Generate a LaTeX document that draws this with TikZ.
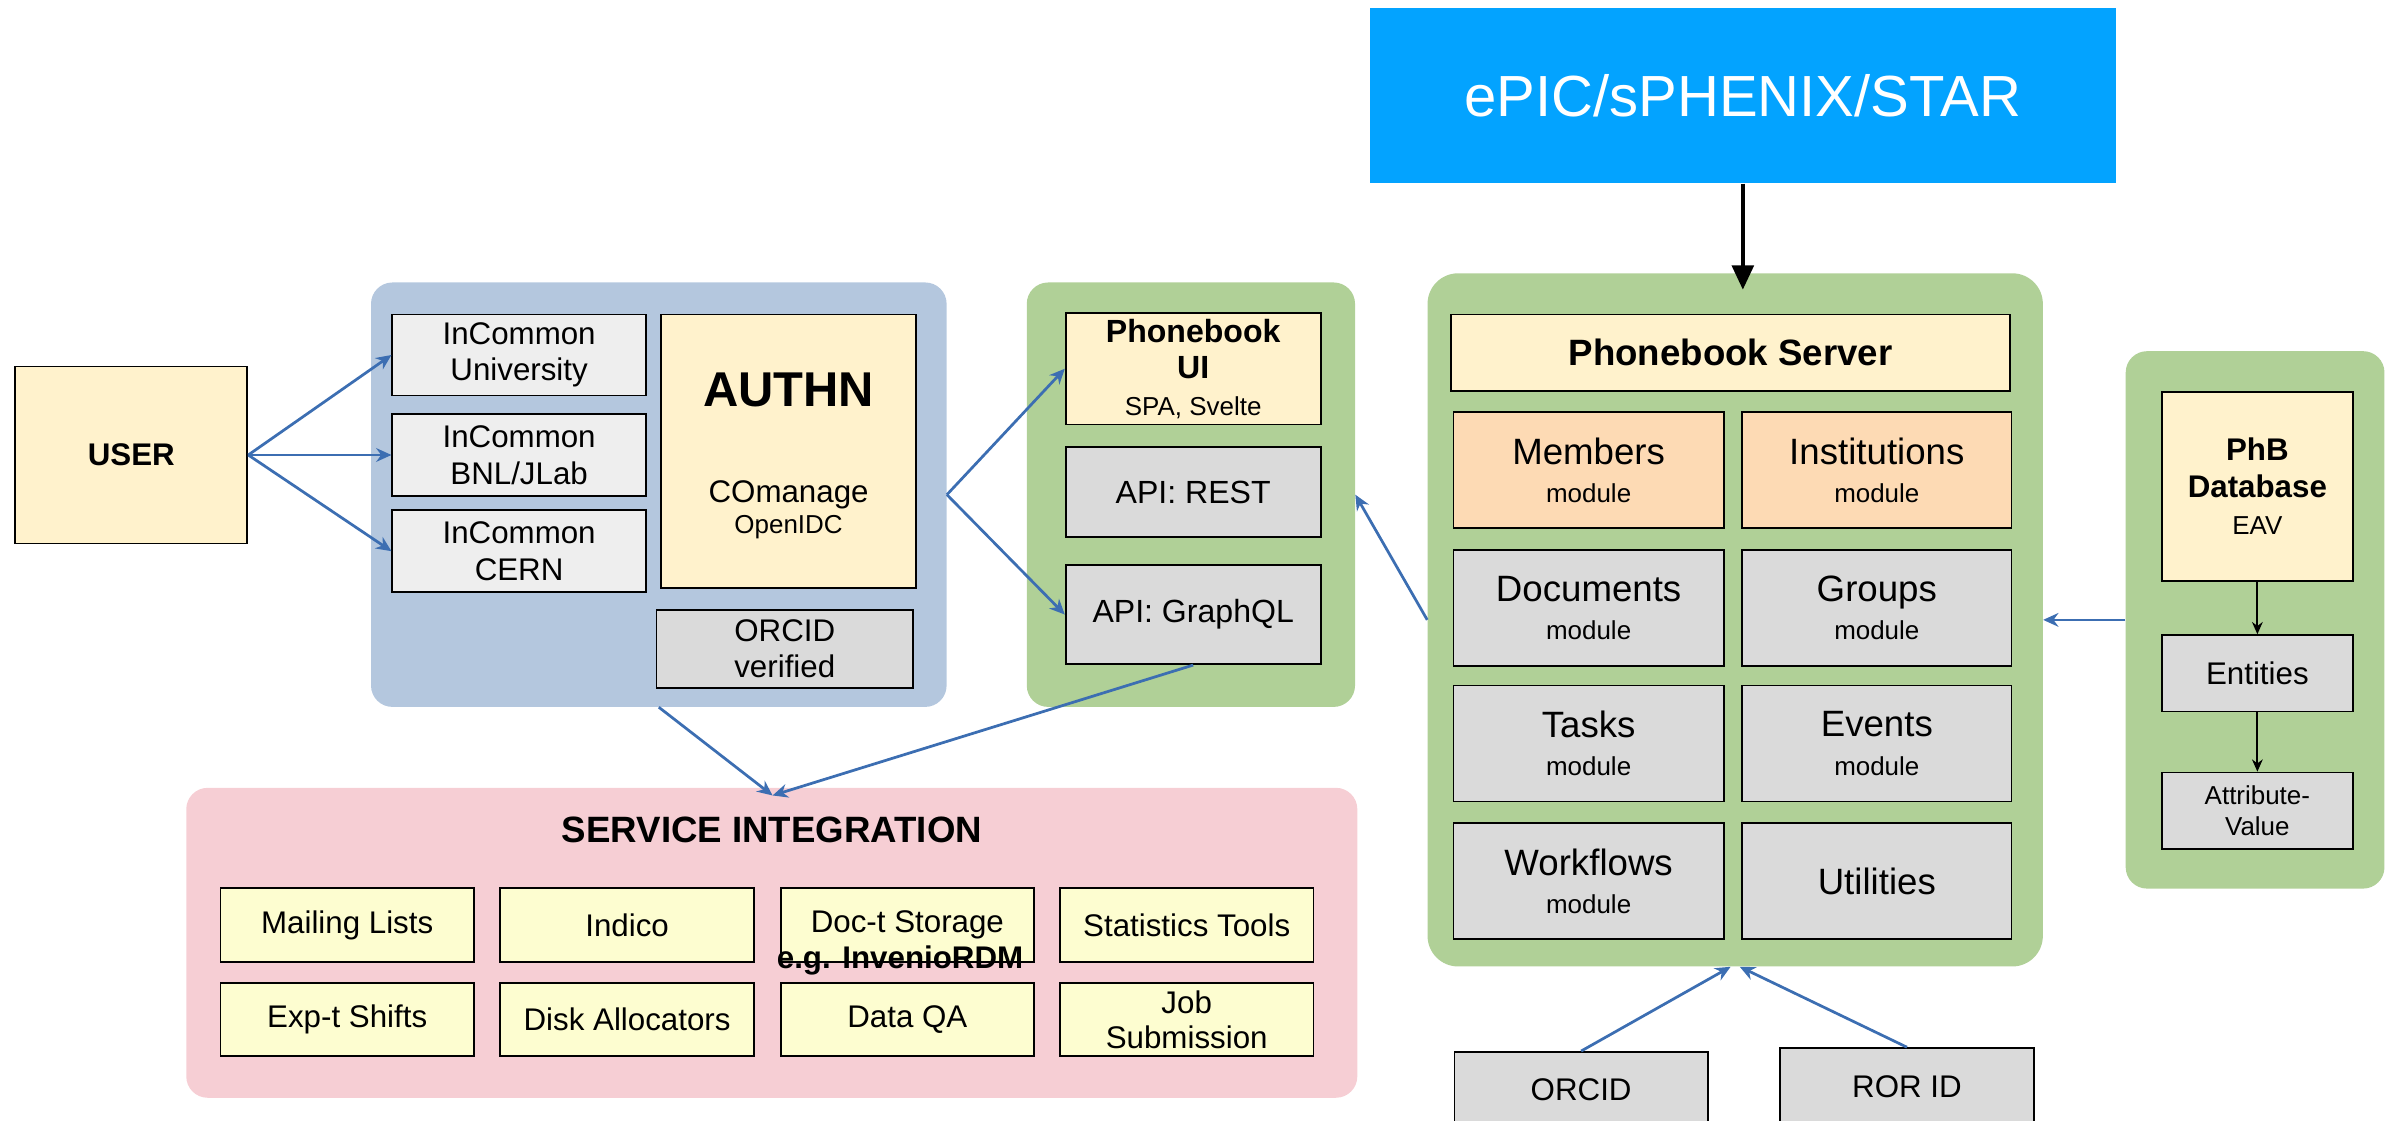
\documentclass[tikz,border=0pt]{standalone}
\usepackage{fontspec}
\setmainfont{Liberation Sans}
\usetikzlibrary{arrows.meta}
\definecolor{cream}{RGB}{255,242,204}
\definecolor{authblue}{RGB}{180,199,222}
\definecolor{ltgray}{RGB}{238,238,238}
\definecolor{midgray}{RGB}{218,218,218}
\definecolor{regiongreen}{RGB}{176,208,151}
\definecolor{epicblue}{RGB}{3,163,255}
\definecolor{peach}{RGB}{253,218,180}
\definecolor{pinkreg}{RGB}{246,206,212}
\definecolor{paleyellow}{RGB}{253,253,208}
\definecolor{arrowblue}{RGB}{60,110,178}
\newcommand\fsz[2]{\fontsize{#1}{#2}\selectfont}
\begin{document}
\begin{tikzpicture}[x=1pt,y=-1pt,
  dims/.style 2 args={minimum width=#1pt, minimum height=#2pt},
  box/.style={draw=black, line width=1.2pt, inner sep=0pt, align=center},
  region/.style={rounded corners=14pt, inner sep=0pt},
  txt/.style={font=\fsz{20.5}{24}},
  module/.style={box, dims={177}{76}, font=\fsz{24}{25}},
  svcbox/.style={box, fill=paleyellow, dims={166}{48}, font=\fsz{20.5}{23}},
  barrow/.style={draw=arrowblue, line width=1.8pt, -{Stealth[length=10pt,width=9pt]}},
  karrow/.style={draw=black, line width=1.3pt, -{Stealth[length=8pt,width=7pt]}}
 ]
\useasboundingbox (0,0) rectangle (1568,734);

% USER
\node[box, fill=cream, dims={152}{116}, font=\bfseries\fsz{20.5}{24}] (user) at (86,298) {USER};

% AUTH region
\node[region, fill=authblue, dims={377}{278}] (authreg) at (431.5,324) {};
\node[box, fill=ltgray, dims={166}{53}, txt] (univ) at (340,232.5) {InCommon\\University};
\node[box, fill=ltgray, dims={166}{54}, txt] (bnl) at (340,298) {InCommon\\BNL/JLab};
\node[box, fill=ltgray, dims={166}{54}, txt] (cern) at (340,361) {InCommon\\CERN};
\node[box, fill=cream, dims={167}{179}] (authn) at (516.5,295.5) {};
\node[font=\bfseries\fsz{32}{36}] (authnlbl) at (516.5,255.5) {AUTHN};
\node[txt] (comanage) at (516.5,324) {COmanage};
\node[font=\fsz{17}{20}] (openidc) at (516.5,345) {OpenIDC};
\node[box, fill=midgray, dims={168}{51}, txt] (orcidv) at (514,425) {ORCID\\verified};

% UI region
\node[region, fill=regiongreen, dims={215}{278}] (uireg) at (780,324) {};
\node[box, fill=cream, dims={167}{73}, font=\bfseries\fsz{21}{24}] (pbui) at (781.5,241.5) {Phonebook\\UI\\\mdseries\fsz{17}{24}SPA, Svelte};
\node[box, fill=midgray, dims={167}{58.6}, font=\fsz{21}{24}] (rest) at (781.5,322.3) {API: REST};
\node[box, fill=midgray, dims={167}{65}, font=\fsz{21}{24}] (gql) at (781.5,402.5) {API: GraphQL};

% ePIC
\node[fill=epicblue, dims={489}{115}, text=white, font=\fsz{38}{40}] (epic) at (1141.5,62.5) {ePIC/sPHENIX/STAR};

% Server region
\node[region, rounded corners=20pt, fill=regiongreen, dims={403}{454}] (server) at (1136.5,406) {};
\node[box, fill=cream, dims={366}{50}, font=\bfseries\fsz{24}{26}] (pbserver) at (1133.5,231) {Phonebook Server};
\node[module, fill=peach] (members) at (1040.5,308) {Members\\\fsz{17}{25}module};
\node[module, fill=peach, dims={176.5}{76}] (inst) at (1229.25,308) {Institutions\\\fsz{17}{25}module};
\node[module, fill=midgray] (docs) at (1040.5,398) {Documents\\\fsz{17}{25}module};
\node[module, fill=midgray, dims={176.5}{76}] (groups) at (1229.25,398) {Groups\\\fsz{17}{25}module};
\node[module, fill=midgray] (tasks) at (1040.5,487) {Tasks\\\fsz{17}{25}module};
\node[module, fill=midgray, dims={176.5}{76}] (events) at (1229.25,487) {Events\\\fsz{17}{25}module};
\node[module, fill=midgray] (workflows) at (1040.5,577) {Workflows\\\fsz{17}{25}module};
\node[module, fill=midgray, dims={176.5}{76}] (utils) at (1229.25,577) {Utilities};

% DB region
\node[region, fill=regiongreen, dims={169.5}{352}] (dbreg) at (1477,406) {};
\node[box, fill=cream, dims={125}{124}, font=\bfseries\fsz{20.5}{24}] (phb) at (1478.5,318.5) {PhB\\Database\\\mdseries\fsz{17}{24}EAV};
\node[box, fill=midgray, dims={125}{50}, txt] (ent) at (1478.5,441) {Entities};
\node[box, fill=midgray, dims={125}{50}, font=\fsz{17}{20}] (attr) at (1478.5,531) {Attribute-\\Value};

% Service integration
\node[region, fill=pinkreg, dims={767}{203}] (svc) at (505.5,617.5) {};
\node[font=\bfseries\fsz{24}{26}] (svctitle) at (505.6,543.6) {SERVICE INTEGRATION};
\node[svcbox] (mail) at (227.4,605.85) {Mailing Lists};
\node[svcbox] (indico) at (410.75,605.85) {Indico};
\node[svcbox] (doct) at (594.3,605.85) {Doc-t Storage};
\node[svcbox] (stats) at (777.25,605.85) {Statistics Tools};
\node[svcbox] (shifts) at (227.4,667.85) {Exp-t Shifts};
\node[svcbox] (disk) at (410.75,667.85) {Disk Allocators};
\node[svcbox] (dataqa) at (594.3,667.85) {Data QA};
\node[svcbox] (jobs) at (777.25,667.85) {Job\\Submission};
\node[font=\bfseries\fsz{20.5}{23}] (invenio) at (589.5,628.8) {e.g. InvenioRDM};

% External IDs
\node[box, fill=midgray, dims={166}{50}, txt] (orcid) at (1035.6,714) {ORCID};
\node[box, fill=midgray, dims={166}{51}, txt] (ror) at (1249,712) {ROR ID};

% Connectors
\coordinate (svcin) at (506,521);
\path (server.north) ++(0,11) coordinate (srvtop);
\coordinate (epictip) at (epic.south |- srvtop);
\draw[barrow] (user.east) -- (univ.west);
\draw[barrow] (user.east) -- (bnl.west);
\draw[barrow] (user.east) -- (cern.west);
\draw[barrow] (authreg.east) -- (pbui.west);
\draw[barrow] (authreg.east) -- (gql.west);
\draw[barrow] (authreg.south) -- (svcin);
\draw[barrow] (gql.south) -- (svcin);
\draw[barrow] (server.west) -- (uireg.east);
\draw[barrow] (dbreg.west) -- (server.east);
\draw[barrow] (orcid.north) -- ([xshift=-3pt]server.south);
\draw[barrow] (ror.north) -- ([xshift=3pt]server.south);
\draw[line width=3pt, -{Triangle[length=16pt,width=14pt]}] (epic.south) -- (epictip);
\draw[karrow] (phb.south) -- (ent.north);
\draw[karrow] (ent.south) -- (attr.north);
\end{tikzpicture}
\end{document}
